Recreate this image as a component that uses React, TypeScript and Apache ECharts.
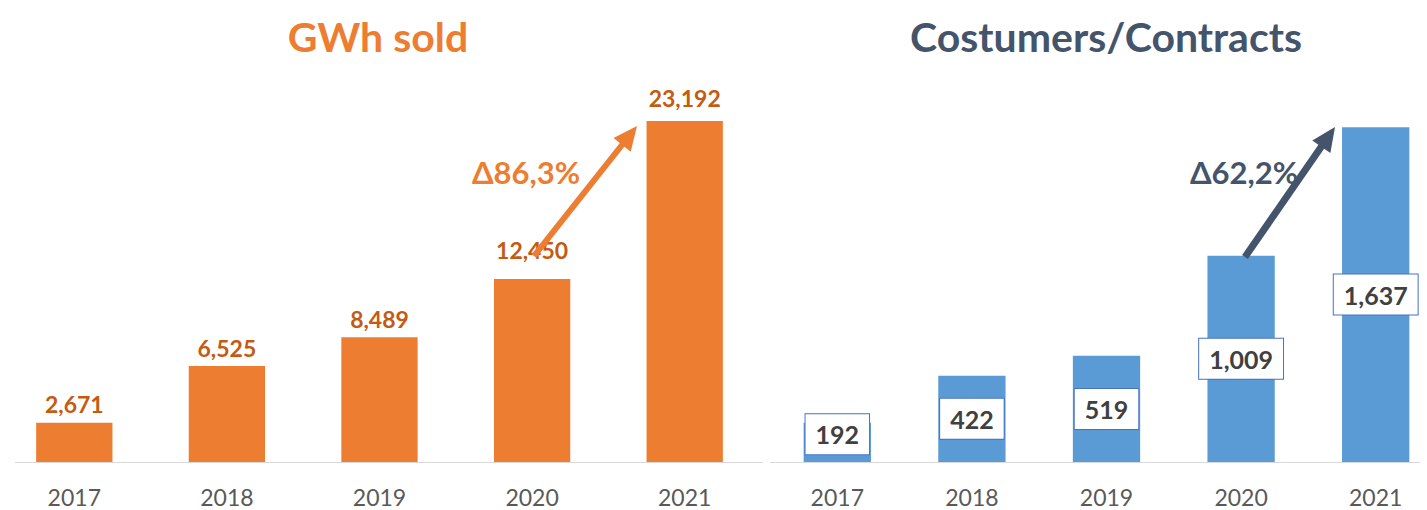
import React, { useEffect, useRef } from "react";
import * as echarts from "echarts";

const years = ["2017", "2018", "2019", "2020", "2021"];
const gwhSold = [2671, 6525, 8489, 12450, 23192];
const customers = [192, 422, 519, 1009, 1637];
const titleLeft = "GWh sold";
const titleRight = "Costumers/Contracts";
const deltaLeft = "Δ86,3%";
const deltaRight = "Δ62,2%";

const FONT = "Lato, 'Open Sans', sans-serif";
const ORANGE = "#ED7D31";
const ORANGE_DARK = "#C55A11";
const BLUE = "#5B9BD5";
const SLATE = "#44546A";
const OX = 20; // container is shifted left by OX so the grids may overflow the page edges

function arrow(x1: number, y1: number, x2: number, y2: number, color: string, w: number) {
  x1 += OX;
  x2 += OX;
  const dx = x2 - x1;
  const dy = y2 - y1;
  const len = Math.sqrt(dx * dx + dy * dy);
  const ux = dx / len;
  const uy = dy / len;
  const hl = 24;
  const hw = 11;
  const bx = x2 - ux * hl;
  const by = y2 - uy * hl;
  const px = -uy;
  const py = ux;
  return [
    {
      type: "line",
      shape: { x1, y1, x2: bx + ux * 2, y2: by + uy * 2 },
      style: { stroke: color, lineWidth: w },
      z: 100,
    },
    {
      type: "polygon",
      shape: {
        points: [
          [x2, y2],
          [bx + px * hw, by + py * hw],
          [bx - px * hw, by - py * hw],
        ],
      },
      style: { fill: color },
      z: 100,
    },
  ];
}

export default function App() {
  const ref = useRef<HTMLDivElement>(null);
  useEffect(() => {
    document.body.style.margin = "0";
    document.body.style.overflow = "hidden";
    document.documentElement.style.overflow = "hidden";
    const chart = echarts.init(ref.current!, null, { renderer: "svg" });
    const catLabel = {
      color: "#595959",
      fontSize: 23,
      fontFamily: FONT,
      margin: 23,
    };
    const fmt = (p: any) => Number(p.value).toLocaleString("en-US");
    chart.setOption({
      animation: false,
      textStyle: { fontFamily: FONT },
      grid: [
        { left: OX - 2, width: 763, top: 21, height: 441 },
        { left: OX + 770, width: 673, top: 53, height: 409 },
      ],
      xAxis: [
        {
          type: "category",
          gridIndex: 0,
          data: years,
          axisLine: { show: false },
          axisTick: { show: false },
          axisLabel: catLabel,
        },
        {
          type: "category",
          gridIndex: 1,
          data: years,
          axisLine: { show: false },
          axisTick: { show: false },
          axisLabel: catLabel,
        },
      ],
      yAxis: [
        { type: "value", gridIndex: 0, min: 0, max: 30000, show: false },
        { type: "value", gridIndex: 1, min: 0, max: 2000, show: false },
      ],
      series: [
        {
          type: "bar",
          xAxisIndex: 0,
          yAxisIndex: 0,
          barWidth: "50%",
          itemStyle: { color: ORANGE },
          data: gwhSold.map((v, i) =>
            i >= 3 ? { value: v, label: { distance: i === 3 ? 17 : 12 } } : v
          ),
          label: {
            show: true,
            position: "top",
            distance: 7,
            color: ORANGE_DARK,
            fontWeight: "bold",
            fontSize: 23,
            fontFamily: FONT,
            formatter: fmt,
          },
        },
        {
          type: "bar",
          xAxisIndex: 1,
          yAxisIndex: 1,
          barWidth: "50%",
          itemStyle: { color: BLUE },
          data: customers.map((v, i) =>
            i === 0 ? { value: v, label: { offset: [0, -8] } } : v
          ),
          label: {
            show: true,
            position: "inside",
            color: "#404040",
            fontWeight: "bold",
            fontSize: 25,
            fontFamily: FONT,
            backgroundColor: "#FFFFFF",
            borderColor: "#4472C4",
            borderWidth: 1,
            padding: [8, 10, 7, 10],
            formatter: fmt,
          },
        },
      ],
      graphic: [
        {
          type: "line",
          shape: { x1: OX + 15, y1: 462.5, x2: OX + 763, y2: 462.5 },
          style: { stroke: "#D9D9D9", lineWidth: 1 },
        },
        {
          type: "line",
          shape: { x1: OX + 770, y1: 462.5, x2: OX + 1420, y2: 462.5 },
          style: { stroke: "#D9D9D9", lineWidth: 1 },
        },
        {
          type: "text",
          x: OX + 378,
          y: 36,
          style: {
            text: titleLeft,
            fill: ORANGE,
            font: `bold 41px ${FONT}`,
            align: "center",
            verticalAlign: "middle",
          },
        },
        {
          type: "text",
          x: OX + 1106,
          y: 36,
          style: {
            text: titleRight,
            fill: SLATE,
            font: `bold 41px ${FONT}`,
            align: "center",
            verticalAlign: "middle",
          },
        },
        {
          type: "text",
          x: OX + 526,
          y: 172,
          z: 99,
          style: {
            text: deltaLeft,
            fill: ORANGE,
            font: `bold 31px ${FONT}`,
            align: "center",
            verticalAlign: "middle",
          },
        },
        {
          type: "text",
          x: OX + 1244,
          y: 172,
          z: 99,
          style: {
            text: deltaRight,
            fill: SLATE,
            font: `bold 31px ${FONT}`,
            align: "center",
            verticalAlign: "middle",
          },
        },
        ...arrow(534, 256, 637, 126, ORANGE, 6),
        ...arrow(1245, 257, 1335, 127, SLATE, 7),
      ],
    });
    return () => chart.dispose();
  }, []);
  return <div ref={ref} style={{ width: 1480, height: 510, marginLeft: -OX }} />;
}
